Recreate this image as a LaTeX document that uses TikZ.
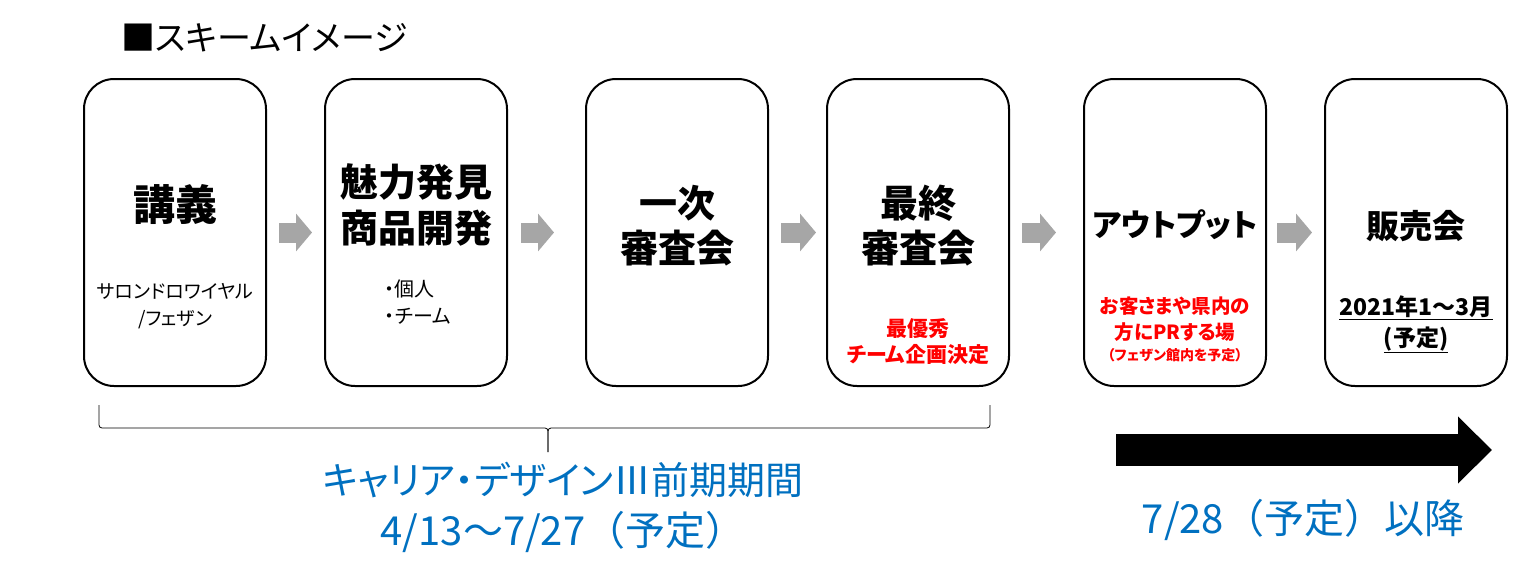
\documentclass[tikz,border=0pt]{standalone}
\usepackage{fontspec}
\usepackage{tikz}
\usetikzlibrary{positioning,arrows.meta}

\newfontfamily\jp[RawFeature=+palt]{Noto Sans CJK JP}
\newfontfamily\jpwide{Noto Sans CJK JP}
\definecolor{flowgray}{HTML}{A6A6A6}
\definecolor{planblue}{HTML}{0070C0}
\definecolor{notered}{HTML}{FF0000}

\tikzset{
  stage/.style={draw, line width=2pt, rounded corners=30pt,
    minimum width=182pt, minimum height=307pt, inner sep=0pt},
  flow/.style={draw=flowgray, line width=20pt,
    -{Triangle[length=16pt,width=37pt]}, shorten <=12pt, shorten >=12pt},
  stagehead/.style={font=\jp\bfseries\fontsize{38pt}{45pt}\selectfont,
    align=center, inner sep=0pt},
  stagenote/.style={font=\jp\fontsize{19pt}{27pt}\selectfont,
    align=center, inner sep=0pt},
  rednote/.style={font=\jp\bfseries\fontsize{21pt}{26pt}\selectfont,
    text=notered, align=center, inner sep=0pt},
  plannote/.style={font=\jp\fontsize{38pt}{51pt}\selectfont,
    text=planblue, align=center, inner sep=0pt},
  bracepen/.style={draw, line width=0.8pt, rounded corners=3pt},
}

\begin{document}
\begin{tikzpicture}[x=1pt, y=-1pt]
  \useasboundingbox (0,0) rectangle (1534,579);

  \node[font=\jp\fontsize{34pt}{40pt}\selectfont, anchor=west, inner sep=0pt]
    (scheme) at (121,38) {■スキームイメージ};

  % six stages
  \node[stage] (lecture) at (175,232.5) {};
  \node[stage, right=57pt of lecture] (develop) {};
  \node[stage, right=77pt of develop] (firstrev) {};
  \node[stage, right=57pt of firstrev] (finalrev) {};
  \node[stage, right=73pt of finalrev] (output) {};
  \node[stage, right=57pt of output] (sale) {};

  \node[stagehead, font=\jp\bfseries\fontsize{42pt}{46pt}\selectfont]
    (lecturehead) at ([yshift=-127pt]lecture.north) {講義};
  \node[stagehead, font=\jp\bfseries\fontsize{38pt}{46pt}\selectfont]
    (develophead) at ([yshift=-127pt]develop.north) {魅力発見\\商品開発};
  \node[stagehead] (firstrevhead) at ([yshift=-147.5pt]firstrev.north) {一次\\審査会};
  \node[stagehead] (finalrevhead) at ([yshift=-147.5pt]finalrev.north) {最終\\審査会};
  \node[stagehead, font=\jp\bfseries\fontsize{31pt}{40pt}\selectfont]
    (outputhead) at ([yshift=-147pt]output.north) {アウトプット};
  \node[stagehead, font=\jp\bfseries\fontsize{33pt}{40pt}\selectfont]
    (salehead) at ([yshift=-148pt]sale.north) {販売会};

  \node[stagenote] (lecturenote) at ([yshift=-228.5pt]lecture.north)
    {サロンドロワイヤル\\/フェザン};
  \node[stagenote, align=left, font=\jp\fontsize{20pt}{27pt}\selectfont]
    (developnote) at ([yshift=-224.5pt,xshift=2pt]develop.north) {・個人\\・チーム};
  \node[rednote] (finalrevnote) at ([yshift=-264pt]finalrev.north)
    {最優秀\\チーム企画決定};
  \node[rednote, font=\jp\bfseries\fontsize{19.5pt}{26pt}\selectfont]
    (outputnote) at ([yshift=-241pt]output.north) {お客さまや県内の\\方にPRする場};
  \node[rednote, font=\jp\bfseries\fontsize{14pt}{18pt}\selectfont]
    (outputplace) at ([yshift=-277pt]output.north) {（フェザン館内を予定）};
  \node[stagehead, font=\jp\bfseries\fontsize{23pt}{31pt}\selectfont]
    (salenote) at ([yshift=-246.5pt]sale.north)
    {\underline{2021年1～3月}\\\underline{(予定)}};

  \draw[flow] (lecture) -- (develop);
  \draw[flow, shorten <=13pt, shorten >=31pt] (develop) -- (firstrev);
  \draw[flow, shorten >=10pt] (firstrev) -- (finalrev);
  \draw[flow, shorten >=27pt] (finalrev) -- (output);
  \draw[flow, shorten <=10pt] (output) -- (sale);

  % brace under the first four stages
  \coordinate (braceleft) at (99,405);
  \coordinate (braceright) at (990,405);
  \coordinate (bracetip) at (548,452);
  \draw[bracepen] (braceleft) |- (548,428) -- (bracetip);
  \draw[bracepen] (braceright) |- (548,428) -- (bracetip);

  \node[plannote] (period) at (563,507)
    {キャリア・デザインⅢ前期期間\\{\jpwide\fontsize{40pt}{51pt}\selectfont 4/13～7/27（予定）}};

  \coordinate (laterstart) at (1116,450);
  \coordinate (laterend) at (1492,450);
  \draw[line width=32pt, -{Triangle[length=34pt,width=65pt]}]
    (laterstart) -- (laterend);
  \node[plannote, font=\jpwide\fontsize{40pt}{51pt}\selectfont]
    (later) at (1303,520) {7/28（予定）以降};
\end{tikzpicture}
\end{document}
